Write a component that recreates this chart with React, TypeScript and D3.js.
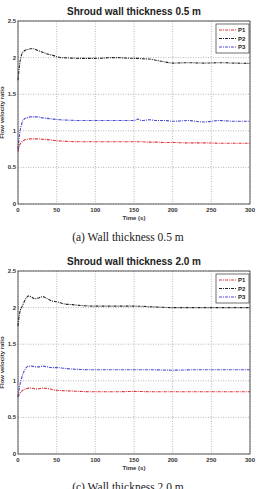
import React from "react";
import * as d3 from "d3";

const xTicks = [0, 50, 100, 150, 200, 250, 300];
const yTicks = [0, 0.5, 1, 1.5, 2, 2.5];
const seriesNames = ["P1", "P2", "P3"];
const seriesColors = ["#e0303a", "#222222", "#4a4ad0"];

// Chart (a) wall thickness 0.5 m
const aTime = [0, 2, 5, 8, 12, 16, 20, 25, 30, 38, 45, 55, 65, 80, 100, 125, 150, 155, 160, 170, 180, 190, 200, 220, 240, 260, 280, 300];
const aP1 = [0.72, 0.8, 0.85, 0.87, 0.885, 0.89, 0.89, 0.89, 0.885, 0.88, 0.87, 0.86, 0.855, 0.85, 0.85, 0.85, 0.85, 0.85, 0.85, 0.845, 0.845, 0.84, 0.84, 0.835, 0.835, 0.83, 0.83, 0.83];
const aP2 = [1.69, 1.9, 2.05, 2.09, 2.11, 2.12, 2.12, 2.1, 2.08, 2.05, 2.03, 2.0, 1.995, 1.99, 1.99, 2.0, 1.99, 1.99, 1.985, 1.98, 1.96, 1.94, 1.925, 1.93, 1.925, 1.93, 1.925, 1.92];
const aP3 = [0.75, 0.95, 1.1, 1.16, 1.18, 1.19, 1.19, 1.19, 1.18, 1.17, 1.16, 1.15, 1.145, 1.14, 1.14, 1.14, 1.14, 1.16, 1.14, 1.15, 1.14, 1.14, 1.13, 1.14, 1.12, 1.14, 1.13, 1.13];

// Chart (c) wall thickness 2.0 m
const cTime = [0, 2, 6, 10, 14, 18, 22, 26, 32, 38, 44, 50, 60, 70, 80, 100, 125, 150, 175, 200, 225, 250, 275, 300];
const cP1 = [0.78, 0.82, 0.87, 0.89, 0.9, 0.9, 0.89, 0.89, 0.9, 0.895, 0.88, 0.87, 0.865, 0.86, 0.855, 0.85, 0.85, 0.855, 0.85, 0.85, 0.85, 0.85, 0.85, 0.85];
const cP2 = [1.75, 1.92, 2.03, 2.12, 2.16, 2.14, 2.12, 2.13, 2.15, 2.12, 2.09, 2.08, 2.05, 2.04, 2.03, 2.02, 2.02, 2.02, 2.01, 2.0, 2.0, 2.0, 2.0, 2.0];
const cP3 = [0.78, 0.92, 1.08, 1.17, 1.2, 1.2, 1.19, 1.19, 1.2, 1.19, 1.18, 1.18, 1.17, 1.16, 1.155, 1.15, 1.15, 1.15, 1.15, 1.145, 1.15, 1.15, 1.15, 1.15];

const L = 18, R = 250, T = 21, B = 204;
const sans = "Liberation Sans, Arial, sans-serif";

function Chart({ top, title, caption, time, p1, p2, p3 }: any) {
  const x = d3.scaleLinear().domain([0, 300]).range([L, R]);
  const y = d3.scaleLinear().domain([0, 2.5]).range([B, T]);
  const vals = [p1, p2, p3];
  const line = (v: number[]) =>
    d3.line<number>().x((_, i) => x(time[i])).y((d) => y(d)).curve(d3.curveMonotoneX)(v) as string;
  return (
    <g transform={`translate(0,${top})`}>
      <text x={(L + R) / 2} y={15} textAnchor="middle" fontFamily={sans} fontWeight="bold" fontSize={10} fill="#222">{title}</text>
      <rect x={L} y={T} width={R - L} height={B - T} fill="#fff" />
      {xTicks.map((t) => (
        <line key={"gx" + t} x1={x(t)} x2={x(t)} y1={T} y2={B} stroke="#999" strokeWidth={0.7} strokeDasharray="1,1.5" />
      ))}
      {yTicks.map((t) => (
        <line key={"gy" + t} x1={L} x2={R} y1={y(t)} y2={y(t)} stroke="#999" strokeWidth={0.7} strokeDasharray="1,1.5" />
      ))}
      {vals.map((v: number[], i: number) => (
        <path key={i} d={line(v)} fill="none" stroke={seriesColors[i]} strokeWidth={1.1} strokeDasharray="3,1,1,1" />
      ))}
      <rect x={L} y={T} width={R - L} height={B - T} fill="none" stroke="#333" strokeWidth={0.8} />
      {xTicks.map((t) => (
        <text key={"tx" + t} x={x(t)} y={B + 8} textAnchor="middle" fontFamily={sans} fontWeight="bold" fontSize={6} fill="#333">{t}</text>
      ))}
      {yTicks.map((t) => (
        <text key={"ty" + t} x={L - 2} y={y(t) + 2} textAnchor="end" fontFamily={sans} fontWeight="bold" fontSize={6} fill="#333">{t}</text>
      ))}
      <text x={(L + R) / 2} y={B + 16} textAnchor="middle" fontFamily={sans} fontWeight="bold" fontSize={6} fill="#333">Time (s)</text>
      <text transform={`translate(4,${(T + B) / 2}) rotate(-90)`} textAnchor="middle" fontFamily={sans} fontWeight="bold" fontSize={6} fill="#333">Flow velocity ratio</text>
      <g>
        <rect x={216} y={24} width={33} height={29} fill="#fff" stroke="#333" strokeWidth={0.7} />
        {seriesNames.map((n, i) => (
          <g key={n}>
            <line x1={219} x2={237} y1={30 + i * 8.5} y2={30 + i * 8.5} stroke={seriesColors[i]} strokeWidth={1} strokeDasharray="3,1,1,1" />
            <text x={238} y={32 + i * 8.5} fontFamily={sans} fontWeight="bold" fontSize={6} fill="#222">{n}</text>
          </g>
        ))}
      </g>
      <text x={128} y={241} textAnchor="middle" fontFamily="Liberation Serif, Times New Roman, serif" fontSize={11.5} fill="#222">{caption}</text>
    </g>
  );
}

export default function App() {
  return (
    <svg width={258} height={489} style={{ position: "absolute", left: 0, top: 0, background: "#fff" }}>
      <rect width={258} height={489} fill="#fff" />
      <Chart top={0} title="Shroud wall thickness 0.5 m" caption="(a) Wall thickness 0.5 m" time={aTime} p1={aP1} p2={aP2} p3={aP3} />
      <Chart top={250} title="Shroud wall thickness 2.0 m" caption="(c) Wall thickness 2.0 m" time={cTime} p1={cP1} p2={cP2} p3={cP3} />
    </svg>
  );
}
